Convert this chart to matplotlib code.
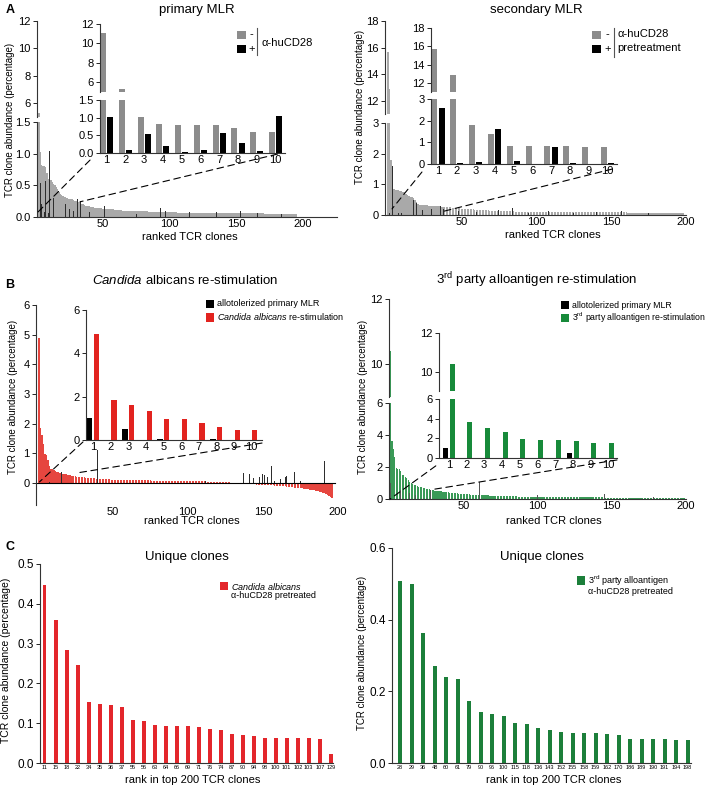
import matplotlib.pyplot as plt
import numpy as np
from matplotlib.patches import ConnectionPatch, Rectangle
from matplotlib.lines import Line2D

# ---- data -----------------------------------------------------------------
# A, primary MLR: control clones (ranked) and alpha-huCD28 pretreated (sparse, rank -> value)
pmlr_ctrl = [
    11.1, 5.3, 1.03, 0.82, 0.80, 0.80, 0.79, 0.70, 0.60, 0.60,
    0.58, 0.56, 0.52, 0.50, 0.47, 0.44, 0.40, 0.37, 0.35, 0.33,
    0.32, 0.31, 0.30, 0.29, 0.29, 0.28, 0.28, 0.27, 0.26, 0.25,
    0.24, 0.23, 0.22, 0.21, 0.20, 0.19, 0.18, 0.18, 0.17, 0.17,
    0.16, 0.16, 0.16, 0.15, 0.15, 0.15, 0.14, 0.14, 0.14, 0.13,
    0.13, 0.13, 0.13, 0.12, 0.12, 0.12, 0.12, 0.12, 0.11, 0.11,
    0.11, 0.11, 0.11, 0.11, 0.10, 0.10, 0.10, 0.10, 0.10, 0.10,
    0.10, 0.10, 0.09, 0.09, 0.09, 0.09, 0.09, 0.09, 0.09, 0.09,
    0.09, 0.09, 0.09, 0.08, 0.08, 0.08, 0.08, 0.08, 0.08, 0.08,
    0.08, 0.08, 0.08, 0.08, 0.08, 0.08, 0.08, 0.08, 0.08, 0.08,
    0.08, 0.08, 0.08, 0.08, 0.08, 0.07, 0.07, 0.07, 0.07, 0.07,
    0.07, 0.07, 0.07, 0.07, 0.07, 0.07, 0.07, 0.07, 0.07, 0.07,
    0.07, 0.07, 0.07, 0.07, 0.07, 0.07, 0.07, 0.07, 0.07, 0.07,
    0.07, 0.07, 0.07, 0.07, 0.07, 0.06, 0.06, 0.06, 0.06, 0.06,
    0.06, 0.06, 0.06, 0.06, 0.06, 0.06, 0.06, 0.06, 0.06, 0.06,
    0.06, 0.06, 0.06, 0.06, 0.06, 0.06, 0.06, 0.06, 0.06, 0.06,
    0.06, 0.06, 0.06, 0.06, 0.06, 0.06, 0.06, 0.06, 0.06, 0.06,
    0.05, 0.05, 0.05, 0.05, 0.05, 0.05, 0.05, 0.05, 0.05, 0.05,
    0.05, 0.05, 0.05, 0.05, 0.05, 0.05, 0.05, 0.05, 0.05, 0.05,
    0.05, 0.05, 0.05, 0.05, 0.05,
]
pmlr_cd28 = {
    1: 1.02, 2: 0.08, 3: 0.54, 4: 0.20, 5: 0.03, 6: 0.08, 7: 0.57, 8: 0.29,
    9: 0.07, 10: 1.05, 11: 0.70, 13: 0.30, 14: 0.25, 17: 0.40, 20: 0.15,
    22: 0.20, 25: 0.12, 28: 0.10, 31: 0.28, 32: 0.30, 33: 0.25, 40: 0.08,
    51: 0.18, 62: 0.10, 68: 0.12, 75: 0.05, 89: 0.12, 93: 0.14, 97: 0.10,
    115: 0.08, 128: 0.10, 135: 0.08, 153: 0.10, 166: 0.06, 170: 0.07,
    173: 0.07, 184: 0.05,
}

# A, secondary MLR
smlr_ctrl = [
    15.7, 12.9, 1.78, 1.37, 0.85, 0.83, 0.83, 0.81, 0.78, 0.77,
    0.76, 0.74, 0.70, 0.66, 0.62, 0.60, 0.58, 0.56, 0.50, 0.42,
    0.36, 0.34, 0.33, 0.32, 0.32, 0.31, 0.31, 0.30, 0.30, 0.30,
    0.29, 0.29, 0.29, 0.28, 0.28, 0.28, 0.27, 0.27, 0.27, 0.26,
    0.26, 0.25, 0.25, 0.24, 0.24, 0.23, 0.23, 0.22, 0.22, 0.21,
    0.21, 0.20, 0.20, 0.19, 0.19, 0.18, 0.18, 0.18, 0.17, 0.17,
    0.17, 0.16, 0.16, 0.16, 0.15, 0.15, 0.15, 0.15, 0.14, 0.14,
    0.14, 0.14, 0.14, 0.13, 0.13, 0.13, 0.13, 0.13, 0.12, 0.12,
    0.12, 0.12, 0.12, 0.12, 0.12, 0.11, 0.11, 0.11, 0.11, 0.11,
    0.11, 0.11, 0.11, 0.10, 0.10, 0.10, 0.10, 0.10, 0.10, 0.10,
    0.10, 0.10, 0.10, 0.10, 0.10, 0.10, 0.10, 0.10, 0.10, 0.10,
    0.10, 0.10, 0.10, 0.10, 0.10, 0.09, 0.09, 0.09, 0.09, 0.09,
    0.09, 0.09, 0.09, 0.09, 0.09, 0.09, 0.09, 0.09, 0.09, 0.09,
    0.09, 0.09, 0.09, 0.09, 0.09, 0.09, 0.09, 0.09, 0.09, 0.09,
    0.09, 0.09, 0.09, 0.09, 0.09, 0.09, 0.09, 0.09, 0.09, 0.09,
    0.09, 0.09, 0.09, 0.09, 0.09, 0.09, 0.09, 0.09, 0.09, 0.09,
    0.08, 0.08, 0.08, 0.08, 0.08, 0.08, 0.08, 0.08, 0.08, 0.08,
    0.08, 0.08, 0.08, 0.08, 0.08, 0.08, 0.08, 0.08, 0.08, 0.08,
    0.07, 0.07, 0.07, 0.07, 0.07, 0.07, 0.07, 0.07, 0.07, 0.07,
    0.07, 0.07, 0.07, 0.07, 0.07, 0.07, 0.07, 0.07,
]
smlr_cd28 = {
    1: 2.60, 2: 0.05, 3: 0.10, 4: 1.60, 5: 0.15, 7: 0.77, 8: 0.05, 10: 0.05,
    11: 0.80, 13: 0.75, 15: 0.60, 17: 0.55, 18: 0.50, 20: 0.40, 24: 0.15,
    30: 0.20, 36: 0.30, 38: 0.20, 48: 0.12, 60: 0.10, 75: 0.15, 84: 0.22,
    95: 0.08, 108: 0.12, 125: 0.06, 140: 0.10, 157: 0.12, 175: 0.05, 190: 0.04,
}

# B, Candida albicans re-stimulation vs allotolerized primary MLR
candida_restim = [
    4.87, 1.85, 1.60, 1.32, 0.98, 0.95, 0.78, 0.58, 0.47, 0.45,
    0.42, 0.40, 0.38, 0.36, 0.34, 0.33, 0.31, 0.30, 0.28, 0.27,
    0.26, 0.25, 0.24, 0.23, 0.22, 0.21, 0.20, 0.20, 0.19, 0.18,
    0.18, 0.17, 0.17, 0.16, 0.16, 0.15, 0.15, 0.15, 0.14, 0.14,
    0.14, 0.13, 0.13, 0.13, 0.12, 0.12, 0.12, 0.12, 0.11, 0.11,
    0.11, 0.11, 0.11, 0.10, 0.10, 0.10, 0.10, 0.10, 0.10, 0.09,
    0.09, 0.09, 0.09, 0.09, 0.09, 0.08, 0.08, 0.08, 0.08, 0.08,
    0.08, 0.08, 0.08, 0.08, 0.08, 0.07, 0.07, 0.07, 0.07, 0.07,
    0.07, 0.07, 0.07, 0.07, 0.07, 0.07, 0.07, 0.07, 0.07, 0.07,
    0.06, 0.06, 0.06, 0.06, 0.06, 0.06, 0.06, 0.06, 0.06, 0.06,
    0.06, 0.06, 0.06, 0.06, 0.06, 0.05, 0.05, 0.05, 0.05, 0.05,
    0.05, 0.05, 0.04, 0.04, 0.04, 0.04, 0.03, 0.03, 0.03, 0.03,
    0.02, 0.02, 0.02, 0.02, 0.01, 0.01, 0.01, 0.01, 0.00, 0.00,
    -0.01, -0.01, -0.01, -0.02, -0.02, -0.02, -0.03, -0.03, -0.03, -0.04,
    -0.04, -0.04, -0.05, -0.05, -0.05, -0.06, -0.06, -0.06, -0.07, -0.07,
    -0.07, -0.08, -0.08, -0.08, -0.09, -0.09, -0.09, -0.10, -0.10, -0.10,
    -0.11, -0.11, -0.11, -0.12, -0.12, -0.13, -0.13, -0.14, -0.14, -0.15,
    -0.16, -0.16, -0.17, -0.18, -0.19, -0.19, -0.20, -0.21, -0.21, -0.22,
    -0.23, -0.24, -0.25, -0.26, -0.27, -0.28, -0.29, -0.30, -0.31, -0.33,
    -0.35, -0.37, -0.40, -0.43, -0.47, -0.52,
]
candida_allo = {
    1: 1.00, 3: 0.50, 5: 0.03, 8: 0.03, 11: 0.38, 16: 0.38, 40: 1.10,
    112: 0.05, 137: 0.33, 141: 0.30, 144: 0.15, 148: 0.20, 150: 0.28,
    151: 0.25, 153: 0.18, 156: 0.58, 158: 0.05, 162: 0.12, 165: 0.20,
    166: 0.22, 171: 0.35, 175: 0.05, 188: 0.08, 191: 0.72,
}

# B, 3rd party alloantigen re-stimulation vs allotolerized primary MLR
third_restim = [
    10.4, 3.65, 3.10, 2.60, 1.95, 1.85, 1.85, 1.75, 1.50, 1.50,
    1.40, 1.30, 1.20, 1.05, 1.00, 0.95, 0.90, 0.86, 0.82, 0.78,
    0.75, 0.72, 0.70, 0.68, 0.65, 0.63, 0.61, 0.59, 0.57, 0.55,
    0.53, 0.52, 0.50, 0.49, 0.47, 0.46, 0.45, 0.44, 0.42, 0.41,
    0.40, 0.39, 0.38, 0.37, 0.36, 0.35, 0.34, 0.33, 0.33, 0.32,
    0.31, 0.30, 0.30, 0.29, 0.28, 0.28, 0.27, 0.26, 0.26, 0.25,
    0.25, 0.24, 0.24, 0.23, 0.23, 0.22, 0.22, 0.21, 0.21, 0.20,
    0.20, 0.20, 0.19, 0.19, 0.19, 0.18, 0.18, 0.18, 0.17, 0.17,
    0.17, 0.17, 0.16, 0.16, 0.16, 0.16, 0.15, 0.15, 0.15, 0.15,
    0.14, 0.14, 0.14, 0.14, 0.14, 0.14, 0.13, 0.13, 0.13, 0.13,
    0.13, 0.13, 0.13, 0.13, 0.13, 0.12, 0.12, 0.12, 0.12, 0.12,
    0.12, 0.12, 0.12, 0.12, 0.12, 0.11, 0.11, 0.11, 0.11, 0.11,
    0.11, 0.11, 0.11, 0.11, 0.11, 0.11, 0.11, 0.11, 0.11, 0.11,
    0.10, 0.10, 0.10, 0.10, 0.10, 0.10, 0.10, 0.10, 0.10, 0.10,
    0.10, 0.10, 0.10, 0.10, 0.10, 0.09, 0.09, 0.09, 0.09, 0.09,
    0.09, 0.09, 0.09, 0.09, 0.09, 0.08, 0.08, 0.08, 0.08, 0.08,
    0.08, 0.08, 0.08, 0.08, 0.08, 0.08, 0.08, 0.08, 0.08, 0.08,
    0.07, 0.07, 0.07, 0.07, 0.07, 0.07, 0.07, 0.07, 0.07, 0.07,
    0.07, 0.07, 0.07, 0.07, 0.07, 0.06, 0.06, 0.06, 0.06, 0.06,
    0.06, 0.06, 0.06, 0.06, 0.06, 0.06, 0.06, 0.06, 0.06,
]
third_allo = {
    1: 1.00, 8: 0.55, 14: 0.37, 18: 0.27, 28: 0.54, 61: 1.08, 68: 0.68,
    100: 0.25, 145: 0.30, 178: 0.15,
}

# C, unique clones
uc_candida_rank = ["11", "15", "18", "22", "34", "35", "36", "37", "55", "56",
                   "63", "64", "66", "69", "71", "76", "74", "87", "90", "94",
                   "98", "100", "101", "102", "103", "107", "129"]
uc_candida_val = [0.448, 0.360, 0.284, 0.247, 0.153, 0.147, 0.145, 0.140, 0.109,
                  0.106, 0.095, 0.093, 0.092, 0.092, 0.090, 0.086, 0.082, 0.073,
                  0.071, 0.068, 0.064, 0.063, 0.063, 0.063, 0.062, 0.060, 0.022]
uc_third_rank = ["28", "29", "36", "48", "60", "61", "79", "90", "96", "100",
                 "115", "118", "136", "143", "152", "155", "158", "159", "162",
                 "170", "186", "189", "190", "191", "194", "198"]
uc_third_val = [0.509, 0.500, 0.362, 0.272, 0.241, 0.235, 0.174, 0.141, 0.138,
                0.132, 0.113, 0.110, 0.099, 0.091, 0.086, 0.085, 0.083, 0.083,
                0.081, 0.077, 0.067, 0.066, 0.066, 0.066, 0.065, 0.063]

# ---- style ----------------------------------------------------------------
plt.rcParams['font.family'] = ['Liberation Sans', 'DejaVu Sans']
plt.rcParams['mathtext.fontset'] = 'custom'
plt.rcParams['mathtext.rm'] = 'Liberation Sans'
plt.rcParams['mathtext.it'] = 'Liberation Sans:italic'
plt.rcParams['axes.linewidth'] = 0.8
plt.rcParams['axes.edgecolor'] = '#333333'

GRAY_MAIN, GRAY_IN = '#a9a9a9', '#8c8c8c'
BLACK_MAIN = '#2e2e2e'
RED_MAIN, RED_IN = '#e6463f', '#e2231f'
GREEN_MAIN, GREEN_IN = '#3a9a57', '#178a3a'

W, H = 708, 786
fig = plt.figure(figsize=(W / 100, H / 100), dpi=100)


def rect(x0, y0, x1, y1):
    # pixel box (top-left origin) -> figure fraction rect
    return [x0 / W, 1 - y1 / H, (x1 - x0) / W, (y1 - y0) / H]


def text(x, y, s, size=8, **kw):
    kw.setdefault('ha', 'center')
    kw.setdefault('va', 'center')
    return fig.text(x / W, 1 - y / H, s, fontsize=size, **kw)


def key(x0, y0, x1, y1, color):
    fig.add_artist(Rectangle((x0 / W, 1 - y1 / H), (x1 - x0) / W, (y1 - y0) / H,
                             transform=fig.transFigure, color=color, lw=0))


def new_axes(x0, y0, x1, y1, ylim, yticks, fs=8):
    ax = fig.add_axes(rect(x0, y0, x1, y1))
    ax.patch.set_alpha(0)
    ax.spines['top'].set_visible(False)
    ax.spines['right'].set_visible(False)
    ax.set_ylim(*ylim)
    ax.set_yticks(yticks)
    ax.tick_params(axis='y', length=3, width=0.6, labelsize=fs, pad=1.5)
    ax.tick_params(axis='x', length=0, labelsize=fs, pad=1.5)
    return ax


def broken(x0, x1, top, bot, top_lim, bot_lim, top_ticks, bot_ticks, xlim):
    at = new_axes(x0, top[0], x1, top[1], top_lim, top_ticks)
    ab = new_axes(x0, bot[0], x1, bot[1], bot_lim, bot_ticks)
    at.spines['bottom'].set_visible(False)
    at.set_xticks([])
    for ax in (at, ab):
        ax.set_xlim(*xlim)
    return at, ab


def draw_main(axs, vals, extra, c_main, c_extra, w_main=0.8, w_extra=0.6):
    r = np.arange(1, len(vals) + 1)
    er = np.array(list(extra.keys()))
    ev = np.array(list(extra.values()))
    for ax in axs:
        ax.bar(r, vals, width=w_main, color=c_main, linewidth=0)
        ax.bar(er, ev, width=w_extra, color=c_extra, linewidth=0)


def draw_inset(axs, left_vals, right_vals, c_left, c_right, w=0.32, off=0.19):
    k = np.arange(1, 11)
    for ax in axs:
        ax.bar(k - off, left_vals, width=w, color=c_left, linewidth=0)
        ax.bar(k + off, right_vals, width=w, color=c_right, linewidth=0)
    axs[-1].set_xticks(k)


def connect(ax_in, ax_main, pa, pb):
    cp = ConnectionPatch(xyA=pa, coordsA=ax_in.transData, xyB=pb,
                         coordsB=ax_main.transData, color='k', lw=0.8,
                         linestyle=(0, (6, 4)))
    fig.add_artist(cp)


def first10(extra):
    return [extra.get(i, 0) for i in range(1, 11)]


YLAB = 'TCR clone abundance (percentage)'

# ---- A left: primary MLR ---------------------------------------------------
mt, mb = broken(37, 337, (21, 117), (122, 217), (5, 12), (0, 1.5),
                [6, 8, 10, 12], [0, 0.5, 1.0, 1.5], (0.5, 225.5))
draw_main([mt, mb], pmlr_ctrl, pmlr_cd28, GRAY_MAIN, BLACK_MAIN)
mb.set_xticks([50, 100, 150, 200])
it, ib = broken(100, 285, (24, 92), (100, 153), (5, 12), (0, 1.5),
                [6, 8, 10, 12], [0, 0.5, 1.0, 1.5], (0.65, 10.5))
draw_inset([it, ib], pmlr_ctrl[:10], first10(pmlr_cd28), GRAY_IN, 'k')
connect(ib, mb, (0.12, -0.2), (1.3, 0.08))
connect(ib, mb, (10.1, -0.03), (32.8, 0.24))
key(237, 31, 246, 39, GRAY_IN)
key(237, 45, 246, 53, 'k')
text(251, 34, '-', 8)
text(252, 49, '+', 8)
fig.add_artist(Line2D([257 / W, 257 / W], [1 - 28 / H, 1 - 55 / H],
                      transform=fig.transFigure, color='#555555', lw=0.8))
text(261, 43, '\u03b1-huCD28', 8, ha='left')
text(197, 10, 'primary MLR', 9.5)
text(190, 237, 'ranked TCR clones', 8)
text(10, 120, YLAB, 7, rotation=90)
text(10, 10, 'A', 9, weight='bold')

# ---- A right: secondary MLR -----------------------------------------------
mt, mb = broken(385, 686, (21, 114), (123, 215), (11, 18), (0, 3),
                [12, 14, 16, 18], [0, 1, 2, 3], (-1, 200))
draw_main([mt, mb], smlr_ctrl, smlr_cd28, GRAY_MAIN, BLACK_MAIN)
mb.set_xticks([50, 100, 150, 200])
it, ib = broken(431, 617, (28, 92), (99, 164), (11, 18), (0, 3),
                [12, 14, 16, 18], [0, 1, 2, 3], (0.63, 10.5))
draw_inset([it, ib], smlr_ctrl[:10], first10(smlr_cd28), GRAY_IN, 'k')
connect(ib, mb, (0.15, -0.37), (3.7, 0.2))
connect(ib, mb, (10.26, -0.23), (36.4, 0.1))
key(592, 31, 601, 39, GRAY_IN)
key(592, 45, 601, 53, 'k')
text(607, 34, '-', 8)
text(608, 49, '+', 8)
fig.add_artist(Line2D([614 / W, 614 / W], [1 - 28 / H, 1 - 57 / H],
                      transform=fig.transFigure, color='#555555', lw=0.8))
text(617, 34, '\u03b1-huCD28', 8, ha='left')
text(617, 48, 'pretreatment', 8, ha='left')
text(536, 10, 'secondary MLR', 9.5)
text(553, 235, 'ranked TCR clones', 8)
text(360, 107, YLAB, 7, rotation=90)

# ---- B left: Candida albicans re-stimulation ------------------------------
mb = new_axes(36, 305, 338, 505, (-0.75, 6), [0, 1, 2, 3, 4, 5, 6])
mb.set_xlim(-1, 200)
mb.spines['bottom'].set_visible(False)
mb.set_xticks([50, 100, 150, 200])
mb.axhline(0, color='k', lw=0.8, xmax=0.99)
draw_main([mb], candida_restim, candida_allo, RED_MAIN, BLACK_MAIN, w_main=0.75)
ib = new_axes(86, 310, 262, 440, (0, 6), [0, 2, 4, 6])
ib.set_xlim(0.6, 10.6)
draw_inset([ib], first10(candida_allo), candida_restim[:10], 'k', RED_IN, w=0.3)
connect(ib, mb, (0.43, -0.09), (1.3, 0.03))
connect(ib, mb, (10.6, -0.14), (27.2, 0.34))
key(206, 300, 214, 308, 'k')
key(206, 313, 214, 322, RED_IN)
text(217, 304, 'allotolerized primary MLR', 6.5, ha='left')
text(217, 317, r'$\it{Candida\ albicans}$ re-stimulation', 6.5, ha='left')
text(185, 280, r'$\it{Candida}$ albicans re-stimulation', 9.5)
text(192, 521, 'ranked TCR clones', 8)
text(13, 397, YLAB, 7, rotation=90)
text(10, 285, 'B', 9, weight='bold')

# ---- B right: 3rd party alloantigen re-stimulation -------------------------
mt, mb = broken(389, 686, (299, 397), (403, 499), (9, 12), (0, 6),
                [10, 12], [0, 2, 4, 6], (0, 200))
draw_main([mt, mb], third_restim, third_allo, GREEN_MAIN, '#555555', w_main=0.75)
mb.set_xticks([50, 100, 150, 200])
it, ib = broken(439, 617, (333, 391), (399, 458), (9, 12), (0, 6),
                [10, 12], [0, 2, 4, 6], (0.45, 10.5))
draw_inset([it, ib], first10(third_allo), third_restim[:10], 'k', GREEN_IN, w=0.28)
connect(ib, mb, (0.27, -0.8), (0.7, 0.0))
connect(ib, mb, (10.5, -0.2), (28.3, 0.58))
key(561, 301, 569, 309, 'k')
key(561, 314, 569, 322, GREEN_IN)
text(572, 305, 'allotolerized primary MLR', 6.3, ha='left')
text(572, 318, r'3$^{\rm rd}$ party alloantigen re-stimulation', 6.3, ha='left')
text(537, 280, r'3$^{\rm rd}$ party alloantigen re-stimulation', 9.5)
text(554, 521, 'ranked TCR clones', 8)
text(363, 397, YLAB, 7, rotation=90)

# ---- C: unique clones ------------------------------------------------------
ax = new_axes(40, 564, 333, 763, (0, 0.5), [0, 0.1, 0.2, 0.3, 0.4, 0.5], fs=8.5)
x = np.arange(len(uc_candida_val))
ax.bar(x, uc_candida_val, width=0.36, color='#e3262b', linewidth=0)
ax.set_xlim(-0.41, 26.2)
ax.set_xticks(x)
ax.set_xticklabels(uc_candida_rank, fontsize=4)
key(220, 582, 228, 590, '#e3262b')
text(231, 586, r'$\it{Candida\ albicans}$', 6.5, ha='left')
text(231, 596, '\u03b1-huCD28 pretreated', 6.5, ha='left')
text(187, 557, 'Unique clones', 9.5)
text(193, 780, 'rank in top 200 TCR clones', 8)
text(6, 660, YLAB, 7.5, rotation=90)
text(10, 547, 'C', 9, weight='bold')

ax = new_axes(392, 548, 691, 763, (0, 0.6), [0, 0.2, 0.4, 0.6], fs=8.5)
x = np.arange(len(uc_third_val))
ax.bar(x, uc_third_val, width=0.35, color='#1c7f3a', linewidth=0)
ax.set_xlim(-0.7, 25.3)
ax.set_xticks(x)
ax.set_xticklabels(uc_third_rank, fontsize=4)
key(577, 576, 585, 585, '#1c7f3a')
text(588, 581, r'3$^{\rm rd}$ party alloantigen', 6.5, ha='left')
text(588, 592, '\u03b1-huCD28 pretreated', 6.5, ha='left')
text(542, 557, 'Unique clones', 9.5)
text(554, 780, 'rank in top 200 TCR clones', 8)
text(362, 653, YLAB, 7, rotation=90)

fig.savefig('out.png', dpi=100)
